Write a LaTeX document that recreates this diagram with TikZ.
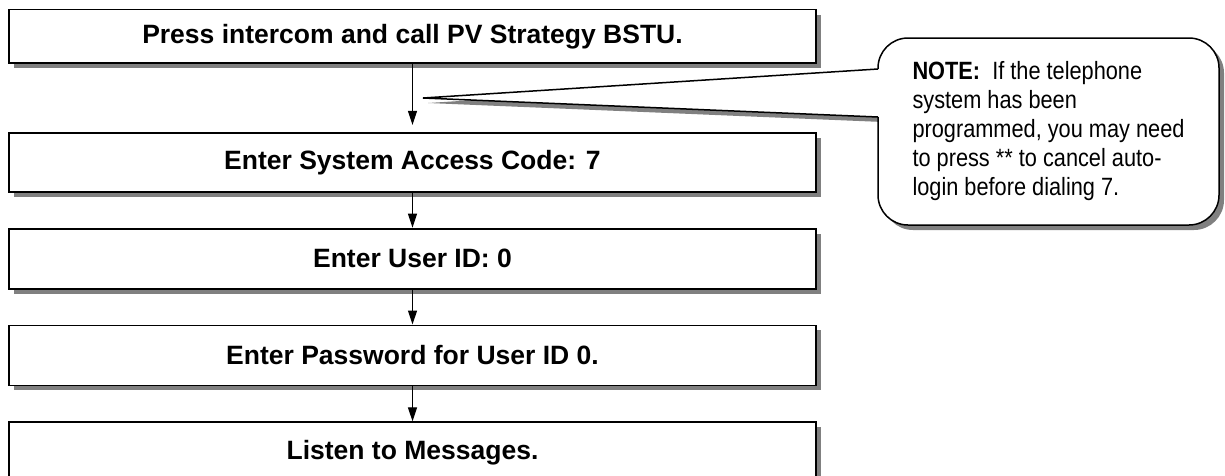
\documentclass[tikz,border=0pt]{standalone}
\usepackage{fontspec}
\setmainfont{Liberation Sans}
\newfontfamily\narrowfont[FakeStretch=0.87]{Liberation Sans}
\usetikzlibrary{positioning,shadows,arrows.meta,backgrounds}
\definecolor{shadowgray}{RGB}{128,128,128}
\tikzset{
    stepbox/.style={draw, line width=1.8pt, fill=white, minimum width=807pt, minimum height=59pt,
        font=\fontsize{26.5}{30}\selectfont\bfseries,
        drop shadow={shadow xshift=5pt, shadow yshift=-5pt, fill=shadowgray, opacity=1}},
    notebox/.style={draw, line width=1.5pt, fill=white, rounded corners=30pt,
        minimum width=341pt, minimum height=187pt, align=left,
        font=\narrowfont\fontsize{25}{29}\selectfont,
        drop shadow={shadow xshift=5pt, shadow yshift=-5pt, fill=shadowgray, opacity=1}},
    flow/.style={-{Triangle[length=14pt,width=9pt]}, line width=1.2pt}
}
\begin{document}
\begin{tikzpicture}[x=1pt, y=-1pt]
            \useasboundingbox (0, 0) rectangle (1225, 475);
            \clip (0, 0) rectangle (1225, 475);

            %%steps
            \node[stepbox, minimum height=53.5pt] (press) at (412.5, 36.25){Press intercom and call PV Strategy BSTU.};
            \node[stepbox, below=68pt of press] (access){Enter System Access Code: 7};
            \node[stepbox, below=35pt of access, minimum height=60pt] (userid){Enter User ID: 0};
            \node[stepbox, below=35pt of userid, minimum height=60pt] (password){Enter Password for User ID 0.};
            \node[stepbox, below=35pt of password, minimum height=60pt] (listen){Listen to Messages.};

            %%arrows
            \draw[flow, shorten >=7pt] (press) -- (access);
            \draw[flow] (access) -- (userid);
            \draw[flow] (userid) -- (password);
            \draw[flow] (password) -- (listen);

            %%note
            \node[notebox] (note) at (1048.5, 131.5){\textbf{NOTE:}\ \ If the telephone\\system has been\\programmed, you may need\\to press ** to cancel auto-\\login before dialing 7.};
            \coordinate (tip) at (423, 98);
            \coordinate (upper) at (878, 69);
            \coordinate (lower) at (878, 117);
            \begin{scope}[on background layer]
                \fill[shadowgray] ([shift={(5, 5)}]tip) -- ([shift={(5, 5)}]upper) -- ([shift={(5, 5)}]lower) -- cycle;
            \end{scope}
            \fill[white] (tip) -- ([xshift=3pt]upper) -- ([xshift=3pt]lower) -- cycle;
            \draw[line width=1.5pt] (upper) -- (tip) -- (lower);
        \end{tikzpicture}
\end{document}
